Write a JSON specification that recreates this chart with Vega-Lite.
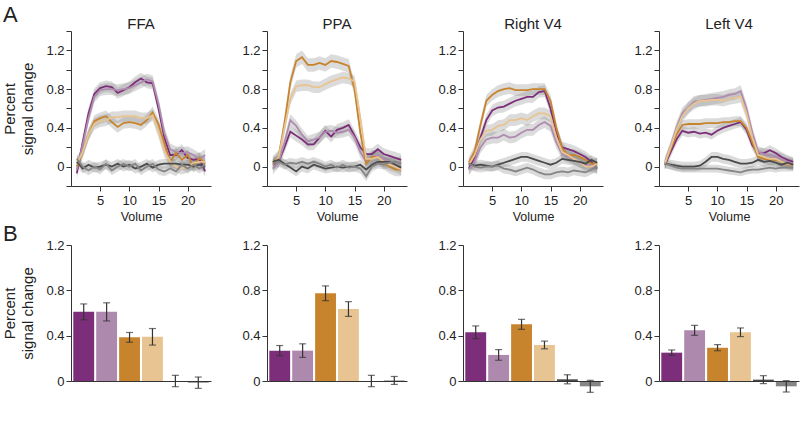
{
"$schema": "https://vega.github.io/schema/vega-lite/v6.json",
"padding": {"left": 2, "top": 3, "right": 4, "bottom": 2},
"config": {
 "font": "Liberation Sans",
 "view": {"stroke": null},
 "axis": {"grid": false, "domainColor": "#333", "tickColor": "#333", "labelColor": "#222", "labelFontSize": 13, "titleFontSize": 15, "titleFontWeight": "normal", "titleColor": "#222", "tickSize": 5, "labelPadding": 2, "titleLineHeight": 18, "titlePadding": 10},
 "title": {"fontSize": 15, "fontWeight": "normal", "color": "#222"}
},
"datasets": {
"ffa": [
{"c":"Face left","v":1,"y":-0.07,"e":0.06},{"c":"Face left","v":2,"y":0.25,"e":0.06},{"c":"Face left","v":3,"y":0.55,"e":0.06},{"c":"Face left","v":4,"y":0.75,"e":0.06},{"c":"Face left","v":5,"y":0.81,"e":0.06},{"c":"Face left","v":6,"y":0.83,"e":0.06},{"c":"Face left","v":7,"y":0.82,"e":0.06},{"c":"Face left","v":8,"y":0.76,"e":0.06},{"c":"Face left","v":9,"y":0.79,"e":0.06},{"c":"Face left","v":10,"y":0.82,"e":0.06},{"c":"Face left","v":11,"y":0.87,"e":0.06},{"c":"Face left","v":12,"y":0.91,"e":0.06},{"c":"Face left","v":13,"y":0.87,"e":0.06},{"c":"Face left","v":14,"y":0.86,"e":0.06},{"c":"Face left","v":15,"y":0.6,"e":0.06},{"c":"Face left","v":16,"y":0.3,"e":0.06},{"c":"Face left","v":17,"y":0.12,"e":0.06},{"c":"Face left","v":18,"y":0.12,"e":0.06},{"c":"Face left","v":19,"y":0.17,"e":0.06},{"c":"Face left","v":20,"y":0.09,"e":0.06},{"c":"Face left","v":21,"y":0.07,"e":0.06},{"c":"Face left","v":22,"y":0.08,"e":0.06},{"c":"Face left","v":23,"y":-0.05,"e":0.06},
{"c":"Face right","v":1,"y":-0.03,"e":0.06},{"c":"Face right","v":2,"y":0.22,"e":0.06},{"c":"Face right","v":3,"y":0.5,"e":0.06},{"c":"Face right","v":4,"y":0.72,"e":0.06},{"c":"Face right","v":5,"y":0.79,"e":0.06},{"c":"Face right","v":6,"y":0.8,"e":0.06},{"c":"Face right","v":7,"y":0.8,"e":0.06},{"c":"Face right","v":8,"y":0.79,"e":0.06},{"c":"Face right","v":9,"y":0.8,"e":0.06},{"c":"Face right","v":10,"y":0.81,"e":0.06},{"c":"Face right","v":11,"y":0.84,"e":0.06},{"c":"Face right","v":12,"y":0.87,"e":0.06},{"c":"Face right","v":13,"y":0.9,"e":0.06},{"c":"Face right","v":14,"y":0.88,"e":0.06},{"c":"Face right","v":15,"y":0.65,"e":0.06},{"c":"Face right","v":16,"y":0.35,"e":0.06},{"c":"Face right","v":17,"y":0.18,"e":0.06},{"c":"Face right","v":18,"y":0.15,"e":0.06},{"c":"Face right","v":19,"y":0.14,"e":0.06},{"c":"Face right","v":20,"y":0.15,"e":0.06},{"c":"Face right","v":21,"y":0.12,"e":0.06},{"c":"Face right","v":22,"y":0.08,"e":0.06},{"c":"Face right","v":23,"y":0.12,"e":0.06},
{"c":"Scene left","v":1,"y":0.0,"e":0.06},{"c":"Scene left","v":2,"y":0.15,"e":0.06},{"c":"Scene left","v":3,"y":0.33,"e":0.06},{"c":"Scene left","v":4,"y":0.47,"e":0.06},{"c":"Scene left","v":5,"y":0.5,"e":0.06},{"c":"Scene left","v":6,"y":0.52,"e":0.06},{"c":"Scene left","v":7,"y":0.46,"e":0.06},{"c":"Scene left","v":8,"y":0.41,"e":0.06},{"c":"Scene left","v":9,"y":0.45,"e":0.06},{"c":"Scene left","v":10,"y":0.46,"e":0.06},{"c":"Scene left","v":11,"y":0.45,"e":0.06},{"c":"Scene left","v":12,"y":0.43,"e":0.06},{"c":"Scene left","v":13,"y":0.48,"e":0.06},{"c":"Scene left","v":14,"y":0.56,"e":0.06},{"c":"Scene left","v":15,"y":0.44,"e":0.06},{"c":"Scene left","v":16,"y":0.24,"e":0.06},{"c":"Scene left","v":17,"y":0.05,"e":0.06},{"c":"Scene left","v":18,"y":0.14,"e":0.06},{"c":"Scene left","v":19,"y":0.07,"e":0.06},{"c":"Scene left","v":20,"y":0.12,"e":0.06},{"c":"Scene left","v":21,"y":0.0,"e":0.06},{"c":"Scene left","v":22,"y":0.09,"e":0.06},{"c":"Scene left","v":23,"y":0.03,"e":0.06},
{"c":"Scene right","v":1,"y":0.03,"e":0.06},{"c":"Scene right","v":2,"y":0.15,"e":0.06},{"c":"Scene right","v":3,"y":0.33,"e":0.06},{"c":"Scene right","v":4,"y":0.44,"e":0.06},{"c":"Scene right","v":5,"y":0.47,"e":0.06},{"c":"Scene right","v":6,"y":0.48,"e":0.06},{"c":"Scene right","v":7,"y":0.51,"e":0.06},{"c":"Scene right","v":8,"y":0.51,"e":0.06},{"c":"Scene right","v":9,"y":0.52,"e":0.06},{"c":"Scene right","v":10,"y":0.52,"e":0.06},{"c":"Scene right","v":11,"y":0.52,"e":0.06},{"c":"Scene right","v":12,"y":0.5,"e":0.06},{"c":"Scene right","v":13,"y":0.5,"e":0.06},{"c":"Scene right","v":14,"y":0.53,"e":0.06},{"c":"Scene right","v":15,"y":0.36,"e":0.06},{"c":"Scene right","v":16,"y":0.16,"e":0.06},{"c":"Scene right","v":17,"y":0.05,"e":0.06},{"c":"Scene right","v":18,"y":0.0,"e":0.06},{"c":"Scene right","v":19,"y":-0.02,"e":0.06},{"c":"Scene right","v":20,"y":0.0,"e":0.06},{"c":"Scene right","v":21,"y":0.04,"e":0.06},{"c":"Scene right","v":22,"y":0.05,"e":0.06},{"c":"Scene right","v":23,"y":0.05,"e":0.06},
{"c":"Rest run 1","v":1,"y":0.05,"e":0.05},{"c":"Rest run 1","v":2,"y":-0.02,"e":0.05},{"c":"Rest run 1","v":3,"y":0.02,"e":0.05},{"c":"Rest run 1","v":4,"y":-0.01,"e":0.05},{"c":"Rest run 1","v":5,"y":0.0,"e":0.05},{"c":"Rest run 1","v":6,"y":0.02,"e":0.05},{"c":"Rest run 1","v":7,"y":0.0,"e":0.05},{"c":"Rest run 1","v":8,"y":0.03,"e":0.05},{"c":"Rest run 1","v":9,"y":0.0,"e":0.05},{"c":"Rest run 1","v":10,"y":0.02,"e":0.05},{"c":"Rest run 1","v":11,"y":-0.02,"e":0.05},{"c":"Rest run 1","v":12,"y":0.0,"e":0.05},{"c":"Rest run 1","v":13,"y":0.03,"e":0.05},{"c":"Rest run 1","v":14,"y":-0.01,"e":0.05},{"c":"Rest run 1","v":15,"y":0.02,"e":0.05},{"c":"Rest run 1","v":16,"y":0.03,"e":0.05},{"c":"Rest run 1","v":17,"y":0.03,"e":0.05},{"c":"Rest run 1","v":18,"y":0.03,"e":0.05},{"c":"Rest run 1","v":19,"y":0.02,"e":0.05},{"c":"Rest run 1","v":20,"y":0.02,"e":0.05},{"c":"Rest run 1","v":21,"y":0.0,"e":0.05},{"c":"Rest run 1","v":22,"y":0.02,"e":0.05},{"c":"Rest run 1","v":23,"y":0.0,"e":0.05},
{"c":"Rest run 2","v":1,"y":0.08,"e":0.05},{"c":"Rest run 2","v":2,"y":0.0,"e":0.05},{"c":"Rest run 2","v":3,"y":-0.04,"e":0.05},{"c":"Rest run 2","v":4,"y":0.0,"e":0.05},{"c":"Rest run 2","v":5,"y":-0.03,"e":0.05},{"c":"Rest run 2","v":6,"y":0.03,"e":0.05},{"c":"Rest run 2","v":7,"y":-0.04,"e":0.05},{"c":"Rest run 2","v":8,"y":0.0,"e":0.05},{"c":"Rest run 2","v":9,"y":0.03,"e":0.05},{"c":"Rest run 2","v":10,"y":0.0,"e":0.05},{"c":"Rest run 2","v":11,"y":0.03,"e":0.05},{"c":"Rest run 2","v":12,"y":-0.04,"e":0.05},{"c":"Rest run 2","v":13,"y":0.0,"e":0.05},{"c":"Rest run 2","v":14,"y":0.03,"e":0.05},{"c":"Rest run 2","v":15,"y":-0.03,"e":0.05},{"c":"Rest run 2","v":16,"y":-0.05,"e":0.05},{"c":"Rest run 2","v":17,"y":-0.02,"e":0.05},{"c":"Rest run 2","v":18,"y":-0.05,"e":0.05},{"c":"Rest run 2","v":19,"y":0.02,"e":0.05},{"c":"Rest run 2","v":20,"y":-0.02,"e":0.05},{"c":"Rest run 2","v":21,"y":0.02,"e":0.05},{"c":"Rest run 2","v":22,"y":-0.02,"e":0.05},{"c":"Rest run 2","v":23,"y":0.02,"e":0.05}
],
"ppa": [
{"c":"Face left","v":1,"y":0.02,"e":0.06},{"c":"Face left","v":2,"y":0.05,"e":0.06},{"c":"Face left","v":3,"y":0.2,"e":0.06},{"c":"Face left","v":4,"y":0.36,"e":0.06},{"c":"Face left","v":5,"y":0.32,"e":0.06},{"c":"Face left","v":6,"y":0.28,"e":0.06},{"c":"Face left","v":7,"y":0.23,"e":0.06},{"c":"Face left","v":8,"y":0.23,"e":0.06},{"c":"Face left","v":9,"y":0.3,"e":0.06},{"c":"Face left","v":10,"y":0.37,"e":0.06},{"c":"Face left","v":11,"y":0.31,"e":0.06},{"c":"Face left","v":12,"y":0.38,"e":0.06},{"c":"Face left","v":13,"y":0.4,"e":0.06},{"c":"Face left","v":14,"y":0.43,"e":0.06},{"c":"Face left","v":15,"y":0.32,"e":0.06},{"c":"Face left","v":16,"y":0.2,"e":0.06},{"c":"Face left","v":17,"y":0.13,"e":0.06},{"c":"Face left","v":18,"y":0.13,"e":0.06},{"c":"Face left","v":19,"y":0.18,"e":0.06},{"c":"Face left","v":20,"y":0.13,"e":0.06},{"c":"Face left","v":21,"y":0.11,"e":0.06},{"c":"Face left","v":22,"y":0.09,"e":0.06},{"c":"Face left","v":23,"y":0.07,"e":0.06},
{"c":"Face right","v":1,"y":-0.02,"e":0.06},{"c":"Face right","v":2,"y":0.05,"e":0.06},{"c":"Face right","v":3,"y":0.25,"e":0.06},{"c":"Face right","v":4,"y":0.48,"e":0.06},{"c":"Face right","v":5,"y":0.42,"e":0.06},{"c":"Face right","v":6,"y":0.33,"e":0.06},{"c":"Face right","v":7,"y":0.26,"e":0.06},{"c":"Face right","v":8,"y":0.28,"e":0.06},{"c":"Face right","v":9,"y":0.3,"e":0.06},{"c":"Face right","v":10,"y":0.36,"e":0.06},{"c":"Face right","v":11,"y":0.37,"e":0.06},{"c":"Face right","v":12,"y":0.35,"e":0.06},{"c":"Face right","v":13,"y":0.36,"e":0.06},{"c":"Face right","v":14,"y":0.38,"e":0.06},{"c":"Face right","v":15,"y":0.3,"e":0.06},{"c":"Face right","v":16,"y":0.15,"e":0.06},{"c":"Face right","v":17,"y":0.05,"e":0.06},{"c":"Face right","v":18,"y":0.1,"e":0.06},{"c":"Face right","v":19,"y":0.12,"e":0.06},{"c":"Face right","v":20,"y":0.08,"e":0.06},{"c":"Face right","v":21,"y":0.05,"e":0.06},{"c":"Face right","v":22,"y":0.03,"e":0.06},{"c":"Face right","v":23,"y":0.05,"e":0.06},
{"c":"Scene left","v":1,"y":0.04,"e":0.07},{"c":"Scene left","v":2,"y":0.1,"e":0.07},{"c":"Scene left","v":3,"y":0.45,"e":0.07},{"c":"Scene left","v":4,"y":0.87,"e":0.07},{"c":"Scene left","v":5,"y":1.09,"e":0.07},{"c":"Scene left","v":6,"y":1.13,"e":0.07},{"c":"Scene left","v":7,"y":1.05,"e":0.07},{"c":"Scene left","v":8,"y":1.05,"e":0.07},{"c":"Scene left","v":9,"y":1.07,"e":0.07},{"c":"Scene left","v":10,"y":1.05,"e":0.07},{"c":"Scene left","v":11,"y":1.09,"e":0.07},{"c":"Scene left","v":12,"y":1.08,"e":0.07},{"c":"Scene left","v":13,"y":1.06,"e":0.07},{"c":"Scene left","v":14,"y":1.04,"e":0.07},{"c":"Scene left","v":15,"y":0.8,"e":0.07},{"c":"Scene left","v":16,"y":0.35,"e":0.07},{"c":"Scene left","v":17,"y":0.03,"e":0.07},{"c":"Scene left","v":18,"y":0.1,"e":0.07},{"c":"Scene left","v":19,"y":0.1,"e":0.07},{"c":"Scene left","v":20,"y":0.04,"e":0.07},{"c":"Scene left","v":21,"y":0.0,"e":0.07},{"c":"Scene left","v":22,"y":-0.03,"e":0.07},{"c":"Scene left","v":23,"y":-0.03,"e":0.07},
{"c":"Scene right","v":1,"y":0.02,"e":0.06},{"c":"Scene right","v":2,"y":0.1,"e":0.06},{"c":"Scene right","v":3,"y":0.4,"e":0.06},{"c":"Scene right","v":4,"y":0.7,"e":0.06},{"c":"Scene right","v":5,"y":0.83,"e":0.06},{"c":"Scene right","v":6,"y":0.84,"e":0.06},{"c":"Scene right","v":7,"y":0.84,"e":0.06},{"c":"Scene right","v":8,"y":0.82,"e":0.06},{"c":"Scene right","v":9,"y":0.82,"e":0.06},{"c":"Scene right","v":10,"y":0.85,"e":0.06},{"c":"Scene right","v":11,"y":0.88,"e":0.06},{"c":"Scene right","v":12,"y":0.9,"e":0.06},{"c":"Scene right","v":13,"y":0.92,"e":0.06},{"c":"Scene right","v":14,"y":0.91,"e":0.06},{"c":"Scene right","v":15,"y":0.88,"e":0.06},{"c":"Scene right","v":16,"y":0.5,"e":0.06},{"c":"Scene right","v":17,"y":0.08,"e":0.06},{"c":"Scene right","v":18,"y":0.08,"e":0.06},{"c":"Scene right","v":19,"y":0.1,"e":0.06},{"c":"Scene right","v":20,"y":0.05,"e":0.06},{"c":"Scene right","v":21,"y":0.02,"e":0.06},{"c":"Scene right","v":22,"y":0.0,"e":0.06},{"c":"Scene right","v":23,"y":-0.03,"e":0.06},
{"c":"Rest run 1","v":1,"y":0.05,"e":0.05},{"c":"Rest run 1","v":2,"y":0.07,"e":0.05},{"c":"Rest run 1","v":3,"y":0.03,"e":0.05},{"c":"Rest run 1","v":4,"y":-0.01,"e":0.05},{"c":"Rest run 1","v":5,"y":-0.05,"e":0.05},{"c":"Rest run 1","v":6,"y":0.0,"e":0.05},{"c":"Rest run 1","v":7,"y":-0.02,"e":0.05},{"c":"Rest run 1","v":8,"y":0.02,"e":0.05},{"c":"Rest run 1","v":9,"y":0.0,"e":0.05},{"c":"Rest run 1","v":10,"y":-0.02,"e":0.05},{"c":"Rest run 1","v":11,"y":-0.01,"e":0.05},{"c":"Rest run 1","v":12,"y":0.0,"e":0.05},{"c":"Rest run 1","v":13,"y":-0.01,"e":0.05},{"c":"Rest run 1","v":14,"y":0.0,"e":0.05},{"c":"Rest run 1","v":15,"y":0.0,"e":0.05},{"c":"Rest run 1","v":16,"y":0.02,"e":0.05},{"c":"Rest run 1","v":17,"y":-0.03,"e":0.05},{"c":"Rest run 1","v":18,"y":0.02,"e":0.05},{"c":"Rest run 1","v":19,"y":0.05,"e":0.05},{"c":"Rest run 1","v":20,"y":0.05,"e":0.05},{"c":"Rest run 1","v":21,"y":0.05,"e":0.05},{"c":"Rest run 1","v":22,"y":0.02,"e":0.05},{"c":"Rest run 1","v":23,"y":-0.01,"e":0.05},
{"c":"Rest run 2","v":1,"y":0.03,"e":0.05},{"c":"Rest run 2","v":2,"y":0.05,"e":0.05},{"c":"Rest run 2","v":3,"y":0.02,"e":0.05},{"c":"Rest run 2","v":4,"y":0.04,"e":0.05},{"c":"Rest run 2","v":5,"y":0.03,"e":0.05},{"c":"Rest run 2","v":6,"y":0.05,"e":0.05},{"c":"Rest run 2","v":7,"y":0.03,"e":0.05},{"c":"Rest run 2","v":8,"y":0.05,"e":0.05},{"c":"Rest run 2","v":9,"y":0.03,"e":0.05},{"c":"Rest run 2","v":10,"y":0.0,"e":0.05},{"c":"Rest run 2","v":11,"y":0.02,"e":0.05},{"c":"Rest run 2","v":12,"y":-0.01,"e":0.05},{"c":"Rest run 2","v":13,"y":0.02,"e":0.05},{"c":"Rest run 2","v":14,"y":-0.01,"e":0.05},{"c":"Rest run 2","v":15,"y":0.0,"e":0.05},{"c":"Rest run 2","v":16,"y":-0.02,"e":0.05},{"c":"Rest run 2","v":17,"y":-0.1,"e":0.05},{"c":"Rest run 2","v":18,"y":0.0,"e":0.05},{"c":"Rest run 2","v":19,"y":0.03,"e":0.05},{"c":"Rest run 2","v":20,"y":0.02,"e":0.05},{"c":"Rest run 2","v":21,"y":0.04,"e":0.05},{"c":"Rest run 2","v":22,"y":0.05,"e":0.05},{"c":"Rest run 2","v":23,"y":0.03,"e":0.05}
],
"rv4": [
{"c":"Face left","v":1,"y":-0.02,"e":0.06},{"c":"Face left","v":2,"y":0.1,"e":0.06},{"c":"Face left","v":3,"y":0.3,"e":0.06},{"c":"Face left","v":4,"y":0.48,"e":0.06},{"c":"Face left","v":5,"y":0.58,"e":0.06},{"c":"Face left","v":6,"y":0.61,"e":0.06},{"c":"Face left","v":7,"y":0.62,"e":0.06},{"c":"Face left","v":8,"y":0.65,"e":0.06},{"c":"Face left","v":9,"y":0.68,"e":0.06},{"c":"Face left","v":10,"y":0.7,"e":0.06},{"c":"Face left","v":11,"y":0.72,"e":0.06},{"c":"Face left","v":12,"y":0.72,"e":0.06},{"c":"Face left","v":13,"y":0.77,"e":0.06},{"c":"Face left","v":14,"y":0.78,"e":0.06},{"c":"Face left","v":15,"y":0.6,"e":0.06},{"c":"Face left","v":16,"y":0.35,"e":0.06},{"c":"Face left","v":17,"y":0.2,"e":0.06},{"c":"Face left","v":18,"y":0.18,"e":0.06},{"c":"Face left","v":19,"y":0.16,"e":0.06},{"c":"Face left","v":20,"y":0.13,"e":0.06},{"c":"Face left","v":21,"y":0.1,"e":0.06},{"c":"Face left","v":22,"y":0.05,"e":0.06},{"c":"Face left","v":23,"y":-0.02,"e":0.06},
{"c":"Face right","v":1,"y":-0.03,"e":0.06},{"c":"Face right","v":2,"y":0.05,"e":0.06},{"c":"Face right","v":3,"y":0.2,"e":0.06},{"c":"Face right","v":4,"y":0.28,"e":0.06},{"c":"Face right","v":5,"y":0.3,"e":0.06},{"c":"Face right","v":6,"y":0.3,"e":0.06},{"c":"Face right","v":7,"y":0.33,"e":0.06},{"c":"Face right","v":8,"y":0.3,"e":0.06},{"c":"Face right","v":9,"y":0.31,"e":0.06},{"c":"Face right","v":10,"y":0.35,"e":0.06},{"c":"Face right","v":11,"y":0.38,"e":0.06},{"c":"Face right","v":12,"y":0.38,"e":0.06},{"c":"Face right","v":13,"y":0.43,"e":0.06},{"c":"Face right","v":14,"y":0.46,"e":0.06},{"c":"Face right","v":15,"y":0.42,"e":0.06},{"c":"Face right","v":16,"y":0.25,"e":0.06},{"c":"Face right","v":17,"y":0.13,"e":0.06},{"c":"Face right","v":18,"y":0.1,"e":0.06},{"c":"Face right","v":19,"y":0.08,"e":0.06},{"c":"Face right","v":20,"y":0.05,"e":0.06},{"c":"Face right","v":21,"y":0.03,"e":0.06},{"c":"Face right","v":22,"y":0.0,"e":0.06},{"c":"Face right","v":23,"y":-0.01,"e":0.06},
{"c":"Scene left","v":1,"y":0.04,"e":0.06},{"c":"Scene left","v":2,"y":0.16,"e":0.06},{"c":"Scene left","v":3,"y":0.43,"e":0.06},{"c":"Scene left","v":4,"y":0.68,"e":0.06},{"c":"Scene left","v":5,"y":0.74,"e":0.06},{"c":"Scene left","v":6,"y":0.78,"e":0.06},{"c":"Scene left","v":7,"y":0.8,"e":0.06},{"c":"Scene left","v":8,"y":0.81,"e":0.06},{"c":"Scene left","v":9,"y":0.79,"e":0.06},{"c":"Scene left","v":10,"y":0.79,"e":0.06},{"c":"Scene left","v":11,"y":0.79,"e":0.06},{"c":"Scene left","v":12,"y":0.8,"e":0.06},{"c":"Scene left","v":13,"y":0.8,"e":0.06},{"c":"Scene left","v":14,"y":0.8,"e":0.06},{"c":"Scene left","v":15,"y":0.68,"e":0.06},{"c":"Scene left","v":16,"y":0.4,"e":0.06},{"c":"Scene left","v":17,"y":0.19,"e":0.06},{"c":"Scene left","v":18,"y":0.12,"e":0.06},{"c":"Scene left","v":19,"y":0.12,"e":0.06},{"c":"Scene left","v":20,"y":0.1,"e":0.06},{"c":"Scene left","v":21,"y":0.07,"e":0.06},{"c":"Scene left","v":22,"y":0.03,"e":0.06},{"c":"Scene left","v":23,"y":0.03,"e":0.06},
{"c":"Scene right","v":1,"y":0.02,"e":0.06},{"c":"Scene right","v":2,"y":0.12,"e":0.06},{"c":"Scene right","v":3,"y":0.28,"e":0.06},{"c":"Scene right","v":4,"y":0.37,"e":0.06},{"c":"Scene right","v":5,"y":0.38,"e":0.06},{"c":"Scene right","v":6,"y":0.42,"e":0.06},{"c":"Scene right","v":7,"y":0.43,"e":0.06},{"c":"Scene right","v":8,"y":0.48,"e":0.06},{"c":"Scene right","v":9,"y":0.48,"e":0.06},{"c":"Scene right","v":10,"y":0.5,"e":0.06},{"c":"Scene right","v":11,"y":0.48,"e":0.06},{"c":"Scene right","v":12,"y":0.52,"e":0.06},{"c":"Scene right","v":13,"y":0.55,"e":0.06},{"c":"Scene right","v":14,"y":0.55,"e":0.06},{"c":"Scene right","v":15,"y":0.52,"e":0.06},{"c":"Scene right","v":16,"y":0.3,"e":0.06},{"c":"Scene right","v":17,"y":0.15,"e":0.06},{"c":"Scene right","v":18,"y":0.12,"e":0.06},{"c":"Scene right","v":19,"y":0.08,"e":0.06},{"c":"Scene right","v":20,"y":0.05,"e":0.06},{"c":"Scene right","v":21,"y":0.0,"e":0.06},{"c":"Scene right","v":22,"y":0.0,"e":0.06},{"c":"Scene right","v":23,"y":0.03,"e":0.06},
{"c":"Rest run 1","v":1,"y":0.03,"e":0.05},{"c":"Rest run 1","v":2,"y":0.01,"e":0.05},{"c":"Rest run 1","v":3,"y":0.02,"e":0.05},{"c":"Rest run 1","v":4,"y":0.01,"e":0.05},{"c":"Rest run 1","v":5,"y":0.0,"e":0.05},{"c":"Rest run 1","v":6,"y":0.02,"e":0.05},{"c":"Rest run 1","v":7,"y":0.04,"e":0.05},{"c":"Rest run 1","v":8,"y":0.06,"e":0.05},{"c":"Rest run 1","v":9,"y":0.08,"e":0.05},{"c":"Rest run 1","v":10,"y":0.1,"e":0.05},{"c":"Rest run 1","v":11,"y":0.1,"e":0.05},{"c":"Rest run 1","v":12,"y":0.08,"e":0.05},{"c":"Rest run 1","v":13,"y":0.06,"e":0.05},{"c":"Rest run 1","v":14,"y":0.04,"e":0.05},{"c":"Rest run 1","v":15,"y":0.02,"e":0.05},{"c":"Rest run 1","v":16,"y":0.04,"e":0.05},{"c":"Rest run 1","v":17,"y":0.08,"e":0.05},{"c":"Rest run 1","v":18,"y":0.07,"e":0.05},{"c":"Rest run 1","v":19,"y":0.06,"e":0.05},{"c":"Rest run 1","v":20,"y":0.05,"e":0.05},{"c":"Rest run 1","v":21,"y":0.03,"e":0.05},{"c":"Rest run 1","v":22,"y":0.07,"e":0.05},{"c":"Rest run 1","v":23,"y":0.04,"e":0.05},
{"c":"Rest run 2","v":1,"y":0.03,"e":0.05},{"c":"Rest run 2","v":2,"y":0.0,"e":0.05},{"c":"Rest run 2","v":3,"y":-0.01,"e":0.05},{"c":"Rest run 2","v":4,"y":0.0,"e":0.05},{"c":"Rest run 2","v":5,"y":0.0,"e":0.05},{"c":"Rest run 2","v":6,"y":0.01,"e":0.05},{"c":"Rest run 2","v":7,"y":-0.02,"e":0.05},{"c":"Rest run 2","v":8,"y":-0.03,"e":0.05},{"c":"Rest run 2","v":9,"y":-0.05,"e":0.05},{"c":"Rest run 2","v":10,"y":-0.03,"e":0.05},{"c":"Rest run 2","v":11,"y":-0.01,"e":0.05},{"c":"Rest run 2","v":12,"y":-0.03,"e":0.05},{"c":"Rest run 2","v":13,"y":-0.06,"e":0.05},{"c":"Rest run 2","v":14,"y":-0.08,"e":0.05},{"c":"Rest run 2","v":15,"y":-0.08,"e":0.05},{"c":"Rest run 2","v":16,"y":-0.06,"e":0.05},{"c":"Rest run 2","v":17,"y":-0.05,"e":0.05},{"c":"Rest run 2","v":18,"y":-0.06,"e":0.05},{"c":"Rest run 2","v":19,"y":-0.04,"e":0.05},{"c":"Rest run 2","v":20,"y":-0.05,"e":0.05},{"c":"Rest run 2","v":21,"y":-0.06,"e":0.05},{"c":"Rest run 2","v":22,"y":-0.03,"e":0.05},{"c":"Rest run 2","v":23,"y":0.0,"e":0.05}
],
"lv4": [
{"c":"Face left","v":1,"y":0.02,"e":0.05},{"c":"Face left","v":2,"y":0.15,"e":0.05},{"c":"Face left","v":3,"y":0.28,"e":0.05},{"c":"Face left","v":4,"y":0.37,"e":0.05},{"c":"Face left","v":5,"y":0.35,"e":0.05},{"c":"Face left","v":6,"y":0.36,"e":0.05},{"c":"Face left","v":7,"y":0.34,"e":0.05},{"c":"Face left","v":8,"y":0.35,"e":0.05},{"c":"Face left","v":9,"y":0.33,"e":0.05},{"c":"Face left","v":10,"y":0.37,"e":0.05},{"c":"Face left","v":11,"y":0.4,"e":0.05},{"c":"Face left","v":12,"y":0.42,"e":0.05},{"c":"Face left","v":13,"y":0.44,"e":0.05},{"c":"Face left","v":14,"y":0.46,"e":0.05},{"c":"Face left","v":15,"y":0.38,"e":0.05},{"c":"Face left","v":16,"y":0.22,"e":0.05},{"c":"Face left","v":17,"y":0.14,"e":0.05},{"c":"Face left","v":18,"y":0.14,"e":0.05},{"c":"Face left","v":19,"y":0.17,"e":0.05},{"c":"Face left","v":20,"y":0.14,"e":0.05},{"c":"Face left","v":21,"y":0.1,"e":0.05},{"c":"Face left","v":22,"y":0.07,"e":0.05},{"c":"Face left","v":23,"y":0.05,"e":0.05},
{"c":"Face right","v":1,"y":0.03,"e":0.06},{"c":"Face right","v":2,"y":0.2,"e":0.06},{"c":"Face right","v":3,"y":0.4,"e":0.06},{"c":"Face right","v":4,"y":0.55,"e":0.06},{"c":"Face right","v":5,"y":0.61,"e":0.06},{"c":"Face right","v":6,"y":0.67,"e":0.06},{"c":"Face right","v":7,"y":0.68,"e":0.06},{"c":"Face right","v":8,"y":0.69,"e":0.06},{"c":"Face right","v":9,"y":0.7,"e":0.06},{"c":"Face right","v":10,"y":0.71,"e":0.06},{"c":"Face right","v":11,"y":0.72,"e":0.06},{"c":"Face right","v":12,"y":0.74,"e":0.06},{"c":"Face right","v":13,"y":0.75,"e":0.06},{"c":"Face right","v":14,"y":0.78,"e":0.06},{"c":"Face right","v":15,"y":0.6,"e":0.06},{"c":"Face right","v":16,"y":0.35,"e":0.06},{"c":"Face right","v":17,"y":0.15,"e":0.06},{"c":"Face right","v":18,"y":0.13,"e":0.06},{"c":"Face right","v":19,"y":0.12,"e":0.06},{"c":"Face right","v":20,"y":0.1,"e":0.06},{"c":"Face right","v":21,"y":0.08,"e":0.06},{"c":"Face right","v":22,"y":0.05,"e":0.06},{"c":"Face right","v":23,"y":0.03,"e":0.06},
{"c":"Scene left","v":1,"y":0.03,"e":0.05},{"c":"Scene left","v":2,"y":0.18,"e":0.05},{"c":"Scene left","v":3,"y":0.33,"e":0.05},{"c":"Scene left","v":4,"y":0.43,"e":0.05},{"c":"Scene left","v":5,"y":0.44,"e":0.05},{"c":"Scene left","v":6,"y":0.44,"e":0.05},{"c":"Scene left","v":7,"y":0.44,"e":0.05},{"c":"Scene left","v":8,"y":0.45,"e":0.05},{"c":"Scene left","v":9,"y":0.45,"e":0.05},{"c":"Scene left","v":10,"y":0.45,"e":0.05},{"c":"Scene left","v":11,"y":0.46,"e":0.05},{"c":"Scene left","v":12,"y":0.46,"e":0.05},{"c":"Scene left","v":13,"y":0.47,"e":0.05},{"c":"Scene left","v":14,"y":0.47,"e":0.05},{"c":"Scene left","v":15,"y":0.4,"e":0.05},{"c":"Scene left","v":16,"y":0.25,"e":0.05},{"c":"Scene left","v":17,"y":0.1,"e":0.05},{"c":"Scene left","v":18,"y":0.08,"e":0.05},{"c":"Scene left","v":19,"y":0.07,"e":0.05},{"c":"Scene left","v":20,"y":0.07,"e":0.05},{"c":"Scene left","v":21,"y":0.05,"e":0.05},{"c":"Scene left","v":22,"y":0.02,"e":0.05},{"c":"Scene left","v":23,"y":0.02,"e":0.05},
{"c":"Scene right","v":1,"y":0.03,"e":0.06},{"c":"Scene right","v":2,"y":0.2,"e":0.06},{"c":"Scene right","v":3,"y":0.38,"e":0.06},{"c":"Scene right","v":4,"y":0.52,"e":0.06},{"c":"Scene right","v":5,"y":0.6,"e":0.06},{"c":"Scene right","v":6,"y":0.65,"e":0.06},{"c":"Scene right","v":7,"y":0.68,"e":0.06},{"c":"Scene right","v":8,"y":0.68,"e":0.06},{"c":"Scene right","v":9,"y":0.69,"e":0.06},{"c":"Scene right","v":10,"y":0.69,"e":0.06},{"c":"Scene right","v":11,"y":0.68,"e":0.06},{"c":"Scene right","v":12,"y":0.7,"e":0.06},{"c":"Scene right","v":13,"y":0.71,"e":0.06},{"c":"Scene right","v":14,"y":0.72,"e":0.06},{"c":"Scene right","v":15,"y":0.55,"e":0.06},{"c":"Scene right","v":16,"y":0.3,"e":0.06},{"c":"Scene right","v":17,"y":0.12,"e":0.06},{"c":"Scene right","v":18,"y":0.1,"e":0.06},{"c":"Scene right","v":19,"y":0.08,"e":0.06},{"c":"Scene right","v":20,"y":0.08,"e":0.06},{"c":"Scene right","v":21,"y":0.05,"e":0.06},{"c":"Scene right","v":22,"y":0.03,"e":0.06},{"c":"Scene right","v":23,"y":0.02,"e":0.06},
{"c":"Rest run 1","v":1,"y":0.03,"e":0.05},{"c":"Rest run 1","v":2,"y":0.02,"e":0.05},{"c":"Rest run 1","v":3,"y":0.01,"e":0.05},{"c":"Rest run 1","v":4,"y":0.0,"e":0.05},{"c":"Rest run 1","v":5,"y":0.0,"e":0.05},{"c":"Rest run 1","v":6,"y":0.0,"e":0.05},{"c":"Rest run 1","v":7,"y":0.01,"e":0.05},{"c":"Rest run 1","v":8,"y":0.05,"e":0.05},{"c":"Rest run 1","v":9,"y":0.1,"e":0.05},{"c":"Rest run 1","v":10,"y":0.1,"e":0.05},{"c":"Rest run 1","v":11,"y":0.08,"e":0.05},{"c":"Rest run 1","v":12,"y":0.07,"e":0.05},{"c":"Rest run 1","v":13,"y":0.05,"e":0.05},{"c":"Rest run 1","v":14,"y":0.03,"e":0.05},{"c":"Rest run 1","v":15,"y":0.03,"e":0.05},{"c":"Rest run 1","v":16,"y":0.04,"e":0.05},{"c":"Rest run 1","v":17,"y":0.07,"e":0.05},{"c":"Rest run 1","v":18,"y":0.05,"e":0.05},{"c":"Rest run 1","v":19,"y":0.06,"e":0.05},{"c":"Rest run 1","v":20,"y":0.04,"e":0.05},{"c":"Rest run 1","v":21,"y":0.02,"e":0.05},{"c":"Rest run 1","v":22,"y":0.04,"e":0.05},{"c":"Rest run 1","v":23,"y":0.02,"e":0.05},
{"c":"Rest run 2","v":1,"y":0.03,"e":0.04},{"c":"Rest run 2","v":2,"y":0.01,"e":0.04},{"c":"Rest run 2","v":3,"y":-0.01,"e":0.04},{"c":"Rest run 2","v":4,"y":-0.02,"e":0.04},{"c":"Rest run 2","v":5,"y":-0.02,"e":0.04},{"c":"Rest run 2","v":6,"y":-0.02,"e":0.04},{"c":"Rest run 2","v":7,"y":-0.02,"e":0.04},{"c":"Rest run 2","v":8,"y":-0.02,"e":0.04},{"c":"Rest run 2","v":9,"y":-0.02,"e":0.04},{"c":"Rest run 2","v":10,"y":-0.02,"e":0.04},{"c":"Rest run 2","v":11,"y":-0.03,"e":0.04},{"c":"Rest run 2","v":12,"y":-0.04,"e":0.04},{"c":"Rest run 2","v":13,"y":-0.05,"e":0.04},{"c":"Rest run 2","v":14,"y":-0.06,"e":0.04},{"c":"Rest run 2","v":15,"y":-0.04,"e":0.04},{"c":"Rest run 2","v":16,"y":-0.03,"e":0.04},{"c":"Rest run 2","v":17,"y":-0.03,"e":0.04},{"c":"Rest run 2","v":18,"y":-0.02,"e":0.04},{"c":"Rest run 2","v":19,"y":-0.01,"e":0.04},{"c":"Rest run 2","v":20,"y":-0.02,"e":0.04},{"c":"Rest run 2","v":21,"y":-0.01,"e":0.04},{"c":"Rest run 2","v":22,"y":-0.01,"e":0.04},{"c":"Rest run 2","v":23,"y":-0.01,"e":0.04}
],
"bars": [
{"r":"FFA","c":"Face left","m":0.61,"e":0.07},{"r":"FFA","c":"Face right","m":0.61,"e":0.08},{"r":"FFA","c":"Scene left","m":0.385,"e":0.043},{"r":"FFA","c":"Scene right","m":0.39,"e":0.073},{"r":"FFA","c":"Rest run 1","m":0.0,"e":0.05},{"r":"FFA","c":"Rest run 2","m":-0.015,"e":0.05},
{"r":"PPA","c":"Face left","m":0.268,"e":0.045},{"r":"PPA","c":"Face right","m":0.268,"e":0.06},{"r":"PPA","c":"Scene left","m":0.774,"e":0.065},{"r":"PPA","c":"Scene right","m":0.635,"e":0.065},{"r":"PPA","c":"Rest run 1","m":0.0,"e":0.05},{"r":"PPA","c":"Rest run 2","m":0.005,"e":0.035},
{"r":"Right V4","c":"Face left","m":0.43,"e":0.056},{"r":"Right V4","c":"Face right","m":0.23,"e":0.047},{"r":"Right V4","c":"Scene left","m":0.5,"e":0.044},{"r":"Right V4","c":"Scene right","m":0.318,"e":0.034},{"r":"Right V4","c":"Rest run 1","m":0.015,"e":0.04},{"r":"Right V4","c":"Rest run 2","m":-0.047,"e":0.053},
{"r":"Left V4","c":"Face left","m":0.25,"e":0.024},{"r":"Left V4","c":"Face right","m":0.447,"e":0.044},{"r":"Left V4","c":"Scene left","m":0.294,"e":0.027},{"r":"Left V4","c":"Scene right","m":0.43,"e":0.038},{"r":"Left V4","c":"Rest run 1","m":0.012,"e":0.035},{"r":"Left V4","c":"Rest run 2","m":-0.047,"e":0.05}
]
},
"spacing": 0,
"resolve": {"scale": {"color": "shared"}, "legend": {"color": "shared"}},
"vconcat": [
{
"title": {"text": "A", "anchor": "start", "fontSize": 22, "offset": -10},
"spacing": 30,
"resolve": {"scale": {"stroke": "shared"}},
"hconcat": [
{"width": 140, "height": 155, "title": {"text": "FFA", "offset": -1}, "data": {"name": "ffa"},
 "encoding": {"x": {"field": "v", "type": "quantitative", "scale": {"domain": [0, 24], "nice": false}, "axis": {"values": [5, 10, 15, 20], "title": "Volume", "titleFontSize": 12.5, "titlePadding": 3, "labelPadding": 3}},
  "y": {"field": "y", "type": "quantitative", "scale": {"domain": [-0.2, 1.4], "nice": false}, "axis": {"values": [-0.2, 0, 0.2, 0.4, 0.6, 0.8, 1, 1.2, 1.4], "format": "~g", "labelExpr": "indexof([0, 0.4, 0.8, 1.2], datum.value) >= 0 ? datum.label : ''", "title": ["Percent", "signal change"]}}},
 "layer": [
  {"mark": {"type": "errorband", "color": "#888", "opacity": 0.3}, "encoding": {"yError": {"field": "e"}, "detail": {"field": "c", "type": "nominal"}}},
  {"mark": {"type": "line", "strokeWidth": 1.8}, "encoding": {"stroke": {"field": "c", "type": "nominal", "scale": {"domain": ["Face left", "Face right", "Scene left", "Scene right", "Rest run 1", "Rest run 2"], "range": ["#7d2e7b", "#b08bb0", "#c8842c", "#e7c491", "#4a4a4a", "#858585"]}, "legend": null}}}
 ]},
{"width": 140, "height": 155, "title": {"text": "PPA", "offset": -1}, "data": {"name": "ppa"},
 "encoding": {"x": {"field": "v", "type": "quantitative", "scale": {"domain": [0, 24], "nice": false}, "axis": {"values": [5, 10, 15, 20], "title": "Volume", "titleFontSize": 12.5, "titlePadding": 3, "labelPadding": 3}},
  "y": {"field": "y", "type": "quantitative", "scale": {"domain": [-0.2, 1.4], "nice": false}, "axis": {"values": [-0.2, 0, 0.2, 0.4, 0.6, 0.8, 1, 1.2, 1.4], "format": "~g", "labelExpr": "indexof([0, 0.4, 0.8, 1.2], datum.value) >= 0 ? datum.label : ''", "title": null}}},
 "layer": [
  {"mark": {"type": "errorband", "color": "#888", "opacity": 0.3}, "encoding": {"yError": {"field": "e"}, "detail": {"field": "c", "type": "nominal"}}},
  {"mark": {"type": "line", "strokeWidth": 1.8}, "encoding": {"stroke": {"field": "c", "type": "nominal", "legend": null}}}
 ]},
{"width": 140, "height": 155, "title": {"text": "Right V4", "offset": -1}, "data": {"name": "rv4"},
 "encoding": {"x": {"field": "v", "type": "quantitative", "scale": {"domain": [0, 24], "nice": false}, "axis": {"values": [5, 10, 15, 20], "title": "Volume", "titleFontSize": 12.5, "titlePadding": 3, "labelPadding": 3}},
  "y": {"field": "y", "type": "quantitative", "scale": {"domain": [-0.2, 1.4], "nice": false}, "axis": {"values": [-0.2, 0, 0.2, 0.4, 0.6, 0.8, 1, 1.2, 1.4], "format": "~g", "labelExpr": "indexof([0, 0.4, 0.8, 1.2], datum.value) >= 0 ? datum.label : ''", "title": null}}},
 "layer": [
  {"mark": {"type": "errorband", "color": "#888", "opacity": 0.3}, "encoding": {"yError": {"field": "e"}, "detail": {"field": "c", "type": "nominal"}}},
  {"mark": {"type": "line", "strokeWidth": 1.8}, "encoding": {"stroke": {"field": "c", "type": "nominal", "legend": null}}}
 ]},
{"width": 140, "height": 155, "title": {"text": "Left V4", "offset": -1}, "data": {"name": "lv4"},
 "encoding": {"x": {"field": "v", "type": "quantitative", "scale": {"domain": [0, 24], "nice": false}, "axis": {"values": [5, 10, 15, 20], "title": "Volume", "titleFontSize": 12.5, "titlePadding": 3, "labelPadding": 3}},
  "y": {"field": "y", "type": "quantitative", "scale": {"domain": [-0.2, 1.4], "nice": false}, "axis": {"values": [-0.2, 0, 0.2, 0.4, 0.6, 0.8, 1, 1.2, 1.4], "format": "~g", "labelExpr": "indexof([0, 0.4, 0.8, 1.2], datum.value) >= 0 ? datum.label : ''", "title": null}}},
 "layer": [
  {"mark": {"type": "errorband", "color": "#888", "opacity": 0.3}, "encoding": {"yError": {"field": "e"}, "detail": {"field": "c", "type": "nominal"}}},
  {"mark": {"type": "line", "strokeWidth": 1.8}, "encoding": {"stroke": {"field": "c", "type": "nominal", "legend": null}}}
 ]}
]
},
{
"title": {"text": "B", "anchor": "start", "fontSize": 22, "offset": -7},
"spacing": 30,
"resolve": {"scale": {"color": "shared"}, "legend": {"color": "shared"}},
"hconcat": [
{"width": 140, "height": 136, "data": {"name": "bars"}, "transform": [{"filter": "datum.r == 'FFA'"}],
 "encoding": {"x": {"field": "c", "type": "nominal", "sort": ["Face left", "Face right", "Scene left", "Scene right", "Rest run 1", "Rest run 2"], "scale": {"paddingInner": 0.09, "paddingOuter": 0.1}, "axis": {"labels": false, "ticks": false, "title": null, "zindex": 1}},
  "y": {"field": "m", "type": "quantitative", "scale": {"domain": [0, 1.2], "nice": false}, "axis": {"values": [0, 0.4, 0.8, 1.2], "format": "~g", "title": ["Percent", "signal change"]}}},
 "layer": [
  {"mark": {"type": "bar"}, "encoding": {"color": {"field": "c", "type": "nominal", "scale": {"domain": ["Face left", "Face right", "Scene left", "Scene right", "Rest run 1", "Rest run 2"], "range": ["#7d2e7b", "#ae89ae", "#c8842c", "#e7c491", "#4a4a4a", "#858585"]}, "legend": {"orient": "none", "legendX": 120, "legendY": 400, "direction": "horizontal", "title": null, "symbolType": "M-1,-0.36H1V0.36H-1Z", "symbolSize": 484, "symbolStrokeWidth": 0, "symbolOpacity": 1, "labelFontSize": 13, "labelOffset": 5, "columnPadding": 22, "labelColor": "#222", "padding": 0}}}},
  {"mark": {"type": "errorbar", "ticks": true, "size": 7, "color": "#333", "thickness": 1.2}, "encoding": {"yError": {"field": "e"}}}
 ]},
{"width": 140, "height": 136, "data": {"name": "bars"}, "transform": [{"filter": "datum.r == 'PPA'"}],
 "encoding": {"x": {"field": "c", "type": "nominal", "sort": ["Face left", "Face right", "Scene left", "Scene right", "Rest run 1", "Rest run 2"], "scale": {"paddingInner": 0.09, "paddingOuter": 0.1}, "axis": {"labels": false, "ticks": false, "title": null, "zindex": 1}},
  "y": {"field": "m", "type": "quantitative", "scale": {"domain": [0, 1.2], "nice": false}, "axis": {"values": [0, 0.4, 0.8, 1.2], "format": "~g", "title": null}}},
 "layer": [
  {"mark": {"type": "bar"}, "encoding": {"color": {"field": "c", "type": "nominal", "legend": {"orient": "none", "legendX": 120, "legendY": 400, "direction": "horizontal", "title": null, "symbolType": "M-1,-0.36H1V0.36H-1Z", "symbolSize": 484, "symbolStrokeWidth": 0, "symbolOpacity": 1, "labelFontSize": 13, "labelOffset": 5, "columnPadding": 22, "labelColor": "#222", "padding": 0}}}},
  {"mark": {"type": "errorbar", "ticks": true, "size": 7, "color": "#333", "thickness": 1.2}, "encoding": {"yError": {"field": "e"}}}
 ]},
{"width": 140, "height": 136, "data": {"name": "bars"}, "transform": [{"filter": "datum.r == 'Right V4'"}],
 "encoding": {"x": {"field": "c", "type": "nominal", "sort": ["Face left", "Face right", "Scene left", "Scene right", "Rest run 1", "Rest run 2"], "scale": {"paddingInner": 0.09, "paddingOuter": 0.1}, "axis": {"labels": false, "ticks": false, "title": null, "zindex": 1}},
  "y": {"field": "m", "type": "quantitative", "scale": {"domain": [0, 1.2], "nice": false}, "axis": {"values": [0, 0.4, 0.8, 1.2], "format": "~g", "title": null}}},
 "layer": [
  {"mark": {"type": "bar"}, "encoding": {"color": {"field": "c", "type": "nominal", "legend": {"orient": "none", "legendX": 120, "legendY": 400, "direction": "horizontal", "title": null, "symbolType": "M-1,-0.36H1V0.36H-1Z", "symbolSize": 484, "symbolStrokeWidth": 0, "symbolOpacity": 1, "labelFontSize": 13, "labelOffset": 5, "columnPadding": 22, "labelColor": "#222", "padding": 0}}}},
  {"mark": {"type": "errorbar", "ticks": true, "size": 7, "color": "#333", "thickness": 1.2}, "encoding": {"yError": {"field": "e"}}}
 ]},
{"width": 140, "height": 136, "data": {"name": "bars"}, "transform": [{"filter": "datum.r == 'Left V4'"}],
 "encoding": {"x": {"field": "c", "type": "nominal", "sort": ["Face left", "Face right", "Scene left", "Scene right", "Rest run 1", "Rest run 2"], "scale": {"paddingInner": 0.09, "paddingOuter": 0.1}, "axis": {"labels": false, "ticks": false, "title": null, "zindex": 1}},
  "y": {"field": "m", "type": "quantitative", "scale": {"domain": [0, 1.2], "nice": false}, "axis": {"values": [0, 0.4, 0.8, 1.2], "format": "~g", "title": null}}},
 "layer": [
  {"mark": {"type": "bar"}, "encoding": {"color": {"field": "c", "type": "nominal", "legend": {"orient": "none", "legendX": 120, "legendY": 400, "direction": "horizontal", "title": null, "symbolType": "M-1,-0.36H1V0.36H-1Z", "symbolSize": 484, "symbolStrokeWidth": 0, "symbolOpacity": 1, "labelFontSize": 13, "labelOffset": 5, "columnPadding": 22, "labelColor": "#222", "padding": 0}}}},
  {"mark": {"type": "errorbar", "ticks": true, "size": 7, "color": "#333", "thickness": 1.2}, "encoding": {"yError": {"field": "e"}}}
 ]}
]
}
]
}
